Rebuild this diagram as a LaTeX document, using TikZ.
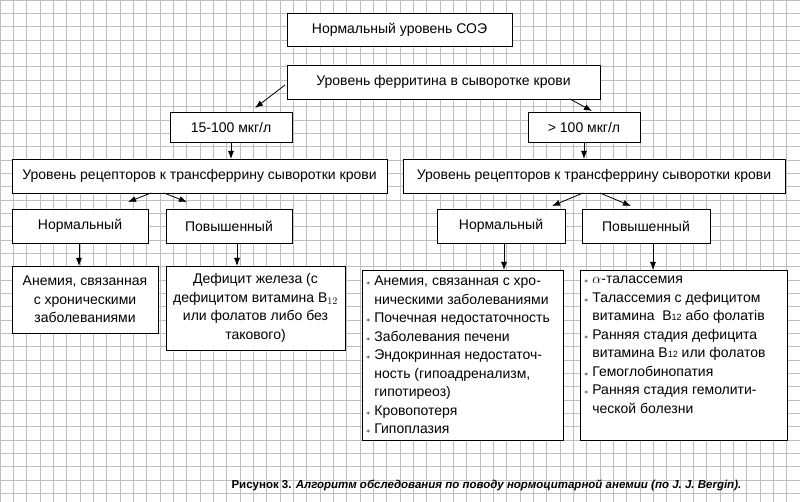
\documentclass[tikz,border=0pt]{standalone}
\usepackage{fontspec}
\setmainfont{Liberation Sans}
\usetikzlibrary{arrows.meta}
\usetikzlibrary{positioning}
\tikzset{>=latex}
\tikzset{box/.style = {draw=black, thick, fill=white, inner sep=2pt}}
\tikzset{arr/.style = {-{Latex[length=8pt,width=6pt]}, thick}}
\newcommand{\st}{{\footnotesize$\ast$}\ }
\newcommand{\ind}{\phantom{{\footnotesize$\ast$}\ }}
\begin{document}
\begin{tikzpicture}[x=1pt, y=-1pt, font=\fontsize{14}{18.5}\selectfont]
\useasboundingbox (0,0) rectangle (800,502);
% grid
\foreach \i in {0,...,60} \draw[gray!50, line width=0.5pt] (\i*13.33,0) -- (\i*13.33,502);
\foreach \j in {0,...,37} \draw[gray!50, line width=0.5pt] (0,\j*13.33) -- (800,\j*13.33);
% boxes
\draw[box] (287,13) rectangle (512,46) node[midway] (soe) {Нормальный уровень СОЭ};
\draw[box] (287,65) rectangle (600,99) node[midway] (fer) {Уровень ферритина в сыворотке крови};
\draw[box] (170,112) rectangle (292,142) node[midway] (lo) {15-100 мкг/л};
\draw[box] (528,112) rectangle (640,142) node[midway] (hi) {> 100 мкг/л};
\draw[box] (12,159) rectangle (387,193) node[midway] (recL) {Уровень рецепторов к трансферрину сыворотки крови};
\draw[box] (403,159) rectangle (785,193) node[midway] (recR) {Уровень рецепторов к трансферрину сыворотки крови};
\draw[box] (12,209) rectangle (148,243) node[midway] (normL) {Нормальный};
\draw[box] (166,209) rectangle (292,243) node[midway] (upL) {Повышенный};
\draw[box] (437,209) rectangle (565,243) node[midway] (normR) {Нормальный};
\draw[box] (582,209) rectangle (710,243) node[midway] (upR) {Повышенный};
\draw[box] (12,266) rectangle (158,333) node[midway, align=center] (resA) {Анемия, связанная\\с хроническими\\заболеваниями};
\draw[box] (166,266) rectangle (345,350) node[midway, align=center] (resB) {Дефицит железа (с\\дефицитом витамина В$_{12}$\\или фолатов либо без\\такового)};
\draw[box] (362,270) rectangle (563,440);
\draw[box] (580,270) rectangle (787,440);
\node[anchor=north west, align=left, inner sep=0pt] (resC) at (366,276) {\st Анемия, связанная с хро-\\\ind ническими заболеваниями\\\st Почечная недостаточность\\\st Заболевания печени\\\st Эндокринная недостаточ-\\\ind ность (гипоадренализм,\\\ind гипотиреоз)\\\st Кровопотеря\\\st Гипоплазия};
\node[anchor=north west, align=left, inner sep=0pt] (resD) at (584,276) {\st $\alpha$-талассемия\\\st Талассемия с дефицитом\\\ind витамина\ \ В{\small 12} або фолатів\\\st Ранняя стадия дефицита\\\ind витамина В{\small 12} или фолатов\\\st Гемоглобинопатия\\\st Ранняя стадия гемолити-\\\ind ческой болезни};
% connectors
\coordinate (fl) at (285,85);
\coordinate (fr) at (570,99);
\draw[arr] (fl) -- (255,108);
\draw[arr] (fr) -- (592,111);
\draw[arr] (231,142) -- (231,159);
\draw[arr] (584,142) -- (584,159);
\draw[arr] (151,193) -- (128,202);
\draw[arr] (164,193) -- (187,202);
\draw[arr] (583,193) -- (552,206);
\draw[arr] (600,193) -- (631,206);
\draw[arr] (79,243) -- (79,266);
\draw[arr] (237,243) -- (237,266);
\draw[arr] (504,243) -- (504,270);
\draw[arr] (653,243) -- (653,270);
% caption
\node[anchor=west, font=\fontsize{11.5}{13}\selectfont\bfseries] (cap) at (228,485) {Рисунок 3. \textit{Алгоритм обследования по поводу нормоцитарной анемии (по J. J. Bergin).}};
\end{tikzpicture}
\end{document}
